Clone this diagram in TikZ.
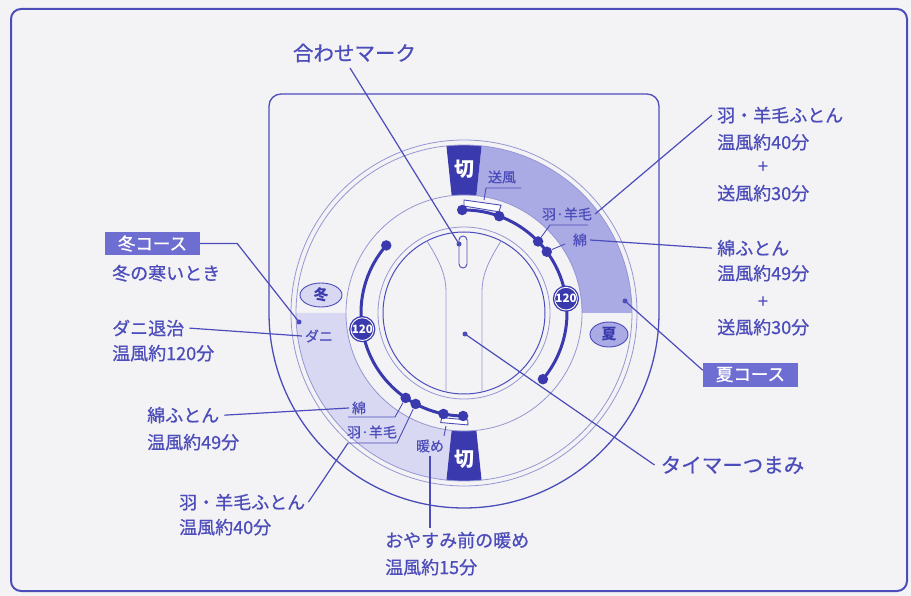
\documentclass[tikz,border=0pt]{standalone}
\usepackage{fontspec}
\setmainfont{Noto Sans CJK JP}
\newfontfamily\lf{Noto Sans CJK JP}[FakeBold=0.7]
\usetikzlibrary{calc,shapes.geometric}
\definecolor{ink}{RGB}{76,76,186}
\definecolor{dark}{RGB}{58,58,174}
\definecolor{summer}{RGB}{170,170,228}
\definecolor{winter}{RGB}{216,216,242}
\definecolor{pale}{RGB}{150,150,212}
\definecolor{bgc}{RGB}{243,243,245}
\definecolor{boxfill}{RGB}{110,110,210}
\tikzset{
  lbl/.style={text=ink, font=\lf\fontsize{18}{22}\selectfont, inner sep=0pt, anchor=base west},
  plus/.style={text=ink, font=\lf\fontsize{18}{22}\selectfont, inner sep=0pt},
  head/.style={text=ink, font=\lf\fontsize{20.5}{24}\selectfont, inner sep=0pt},
  tiny/.style={text=ink, font=\lf\fontsize{14}{16}\selectfont, inner sep=0pt},
  leader/.style={draw=ink, line width=1.2pt},
  thinl/.style={draw=ink, line width=0.9pt},
  ring/.style={draw=pale, line width=0.8pt},
  track/.style={draw=dark, line width=3pt},
  tdot/.style={circle, fill=dark, minimum size=10.5pt, inner sep=0pt},
  sdot/.style={circle, fill=ink, minimum size=5pt, inner sep=0pt},
  badge/.style={circle, fill=dark, draw=white, line width=0.9pt, minimum size=21.5pt, inner sep=0pt, text=white, font=\fontsize{11.5}{12}\selectfont\bfseries, preaction={draw=dark, line width=3.5pt}},
  course/.style={fill=boxfill, text=white, font=\lf\fontsize{17.5}{20}\selectfont, inner sep=0pt, minimum width=95pt, minimum height=24pt},
  oval/.style={ellipse, draw=ink, line width=0.9pt, inner sep=0pt, text=dark, font=\fontsize{15}{16}\selectfont\bfseries},
  cutlbl/.style={text=white, font=\fontsize{20}{22}\selectfont\bfseries, inner sep=0pt},
}
\begin{document}
\begin{tikzpicture}[x=1pt,y=1pt]
\useasboundingbox (0,0) rectangle (911,-596);
\fill[bgc] (0,0) rectangle (911,-596);
\draw[draw=ink, line width=2pt, rounded corners=10pt] (11,-9) rectangle (907,-591);
% panel
\draw[draw=ink, line width=1.3pt] (269,-313) -- (269,-106) arc[start angle=180,end angle=90,radius=12] -- (647,-94) arc[start angle=90,end angle=0,radius=12] -- (659,-313) arc[start angle=0,end angle=-180,radius=195];
\begin{scope}[shift={(464,-313)}]
 \fill[summer] (0:168) arc[start angle=0,end angle=84,radius=168] -- (84:118) arc[start angle=84,end angle=0,radius=118] -- cycle;
 \fill[winter] (180:168) arc[start angle=180,end angle=264,radius=168] -- (264:118) arc[start angle=264,end angle=180,radius=118] -- cycle;
 \fill[dark] (84:168) arc[start angle=84,end angle=96,radius=168] -- (96:118) arc[start angle=96,end angle=84,radius=118] -- cycle;
 \fill[dark] (264:168) arc[start angle=264,end angle=276,radius=168] -- (276:118) arc[start angle=276,end angle=264,radius=118] -- cycle;
 \draw[ring] (0,0) circle[radius=173] (0,0) circle[radius=168] (0,0) circle[radius=118];
 % knob
 \draw[ring] (0,0) circle[radius=86];
 \draw[draw=ink, line width=1pt] (0,0) circle[radius=81];
 \draw[ring] (-37,72) .. controls (-22,48) and (-18,36) .. (-18,20) -- (-18,-79);
 \draw[ring] (37,72) .. controls (22,48) and (18,36) .. (18,20) -- (18,-79);
 \draw[thinl, rounded corners=4pt] (-5,77) rectangle (3,45);
 \node[sdot] (slotdot) at (-5,69) {};
 \node[sdot] (knobdot) at (1,-21) {};
 % track
 \draw[track] (91:103) arc[start angle=91,end angle=-40,radius=103];
 \draw[track] (139:103) arc[start angle=139,end angle=269.5,radius=103];
 \draw[thinl, fill=white] (90:113) -- (71:114) -- (71:107) -- (90:107) -- cycle;
 \draw[thinl, fill=white] (258:107) -- (258:112) -- (272:112) -- (272:107) -- cycle;
 \node[tdot] (r1) at (91:103) {};
 \node[tdot] (r2) at (70:103) {};
 \node[tdot] (r3) at (44:103) {};
 \node[tdot] (r4) at (36.5:103) {};
 \node[tdot] (r5) at (-40:103) {};
 \node[tdot] (l1) at (139:103) {};
 \node[tdot] (l2) at (235.5:103) {};
 \node[tdot] (l3) at (242:103) {};
 \node[tdot] (l4) at (258.5:103) {};
 \node[tdot] (l5) at (269.5:103) {};
 \node[badge] (b1) at (8:103) {120};
 \node[badge] (b2) at (189:103) {120};
 \node[cutlbl] (cutT) at (90:144) {切};
 \node[cutlbl] (cutB) at (270:146) {切};
 \node[oval, fill=winter, minimum width=42pt, minimum height=24pt] (fuyuO) at (-143,18) {冬};
 \node[oval, fill=summer, minimum width=38pt, minimum height=25pt] (natsuO) at (145,-21.5) {夏};
 \node[sdot] (sdotS) at (161,12) {};
 \node[sdot] (sdotW) at (-165,-9) {};
\end{scope}
% inner labels
\node[tiny] (soufu) at (502,-177) {送風};
\node[tiny] (haneIR) at (567,-214) {羽·羊毛};
\node[tiny] (menIR) at (580,-240) {綿};
\node[tiny] (menIL) at (359,-408) {綿};
\node[tiny] (haneIL) at (372,-432) {羽·羊毛};
\node[tiny] (atatame) at (430,-446) {暖め};
\node[tiny] (daniI) at (319,-336) {ダニ};
\coordinate (uS1) at (486,-188);
\coordinate (uS2) at (521,-188);
\coordinate (tabT) at (484,-200);
\draw[thinl] (uS2) -- (uS1) -- (tabT);
\coordinate (uH1) at (550,-225);
\coordinate (uH2) at (588,-225);
\draw[thinl] (uH2) -- (uH1) -- (r3);
\coordinate (uM1) at (565,-244);
\draw[thinl] (uM1) -- (r4);
\coordinate (uML1) at (348,-417);
\coordinate (uML2) at (395,-417);
\draw[thinl] (uML1) -- (uML2) -- (l2);
\coordinate (uHL1) at (348,-443);
\coordinate (uHL2) at (397,-443);
\draw[thinl] (uHL1) -- (uHL2) -- (l3);
\coordinate (tabB1) at (446,-426);
\coordinate (tabB2) at (444,-436);
\draw[thinl] (tabB1) -- (tabB2);
% outer labels
\node[head] (awase) at (354.5,-53) {合わせマーク};
\node[lbl] (hR1) at (717,-122) {羽・羊毛ふとん};
\node[lbl] (hR2) at (717,-149) {温風約40分};
\node[plus] (hR3) at (763,-167) {+};
\node[lbl] (hR4) at (717,-200) {送風約30分};
\node[lbl] (wR1) at (717,-255) {綿ふとん};
\node[lbl] (wR2) at (717,-280) {温風約49分};
\node[plus] (wR3) at (763,-302) {+};
\node[lbl] (wR4) at (717,-334) {送風約30分};
\node[course] (natsu) at (750.5,-374.5) {夏コース};
\node[head] (timer) at (732.5,-465) {タイマーつまみ};
\node[course, minimum height=23pt] (fuyuC) at (152.5,-243.5) {冬コース};
\node[lbl] (fuyu2) at (112,-280) {冬の寒いとき};
\node[lbl] (dani1) at (112,-335) {ダニ退治};
\node[lbl] (dani2) at (112,-360) {温風約120分};
\node[lbl] (menL1) at (147,-422) {綿ふとん};
\node[lbl] (menL2) at (147,-449) {温風約49分};
\node[lbl] (haneL1) at (179,-509) {羽・羊毛ふとん};
\node[lbl] (haneL2) at (179,-534) {温風約40分};
\node[lbl] (oya1) at (385,-547) {おやすみ前の暖め};
\node[lbl] (oya2) at (385,-574) {温風約15分};
% leaders
\coordinate (awaseL) at (350,-68);
\draw[leader] (awaseL) -- (slotdot.center);
\draw[leader] ([xshift=-5pt]hR1.west) -- ([xshift=3pt]haneIR.east);
\draw[leader] ([xshift=-5pt]wR1.west) -- ([xshift=3pt]menIR.east);
\draw[leader] ([yshift=-8pt]natsu.north west) -- (sdotS.center);
\draw[leader] ([xshift=-6pt]timer.west) -- (knobdot.center);
\draw[leader] (fuyuC.east) -- ++(37,0) -- (sdotW.center);
\draw[leader] ([xshift=5pt]dani1.east) -- ([xshift=-3pt]daniI.west);
\draw[leader] ([xshift=5pt]menL1.east) -- ([xshift=-3pt]menIL.west);
\draw[leader] ([xshift=3pt]haneL1.east) -- (uHL1);
\draw[leader] ([yshift=-3pt]atatame.south) -- ([yshift=4pt]atatame.south |- oya1.north);
\end{tikzpicture}
\end{document}
